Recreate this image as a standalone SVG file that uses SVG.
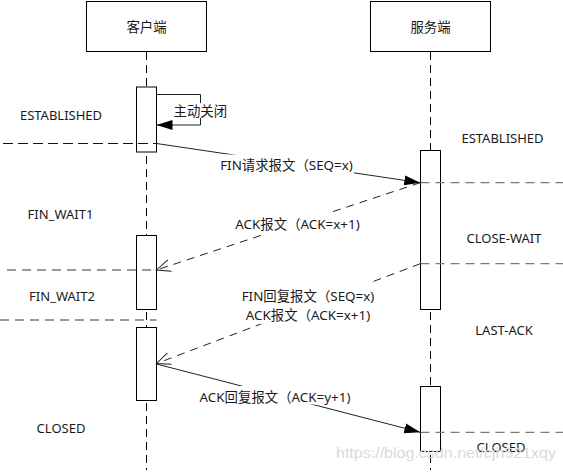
<svg xmlns="http://www.w3.org/2000/svg" width="563" height="472" viewBox="0 0 563 472">
<style>
text{font-family:"Noto Sans","Noto Sans CJK SC",sans-serif;font-size:13px;fill:#1a1a1a}
.mid{text-anchor:middle}
.lbl{font-size:13.4px}
.box{fill:#fff;stroke:#000;stroke-width:1}
.life{stroke:#000;stroke-width:1;stroke-dasharray:8 5;fill:none}
.msg{stroke:#222;stroke-width:1;fill:none}
.dmsg{stroke:#222;stroke-width:1;fill:none;stroke-dasharray:8 6}
.state{stroke:#7a7a7a;stroke-width:1.3;stroke-dasharray:9 6;fill:none}
.stateb{stroke:#111;stroke-width:1;stroke-dasharray:10 5;fill:none}
.bg{fill:#fff}
.wm{font-family:"Liberation Sans",Arial,sans-serif;font-size:15px;fill:#dadada}
</style>
<defs>
<marker id="filled" markerUnits="userSpaceOnUse" markerWidth="20" markerHeight="14" refX="16" refY="6" orient="auto">
<path d="M0,1 L16,6 L0,11 Z" fill="#000" stroke="none"/>
</marker>
<marker id="open" markerUnits="userSpaceOnUse" markerWidth="20" markerHeight="16" refX="14" refY="7" orient="auto">
<path d="M0,1 L14,7 L0,13" fill="none" stroke="#222" stroke-width="1" stroke-dasharray="none"/>
</marker>
</defs>

<g id="lifelines">
<line class="life" x1="146.5" y1="52" x2="146.5" y2="470"/>
<line class="life" x1="430.5" y1="52" x2="430.5" y2="470"/>
</g>

<g id="client">
<rect class="box" x="86.5" y="1.5" width="120" height="50"/>
<text class="mid lbl" x="146.5" y="32">客户端</text>
</g>
<g id="server">
<rect class="box" x="370.5" y="1.5" width="120" height="50"/>
<text class="mid lbl" x="430.5" y="32">服务端</text>
</g>

<g id="activations">
<rect id="c-act1" class="box" x="136.5" y="87" width="20" height="65"/>
<rect id="c-act2" class="box" x="136.5" y="235.5" width="20" height="74"/>
<rect id="c-act3" class="box" x="136.5" y="327.5" width="20" height="73"/>
<rect id="s-act1" class="box" x="420.5" y="150.5" width="20" height="159"/>
<rect id="s-act2" class="box" x="420.5" y="386.5" width="20" height="65"/>
</g>

<g id="state-lines">
<line class="stateb" x1="3" y1="143.5" x2="156.5" y2="143.5"/>
<line class="state" x1="420.5" y1="182.7" x2="563" y2="182.7"/>
<line class="state" x1="7" y1="270" x2="156.5" y2="270"/>
<line class="state" x1="420.5" y1="263.7" x2="563" y2="263.7"/>
<line class="state" x1="0" y1="320" x2="156.5" y2="320"/>
<line class="state" x1="420.5" y1="432.3" x2="563" y2="432.3"/>
</g>

<g id="connectors">
<path class="msg" d="M156.5,94.5 H200.5 V125 H156.5" marker-end="url(#filled)"/>
<line class="msg" x1="156.5" y1="143.5" x2="420.3" y2="182.7" marker-end="url(#filled)"/>
<line class="dmsg" x1="420.3" y1="182.7" x2="156.5" y2="270" marker-end="url(#open)"/>
<line class="dmsg" x1="420.3" y1="263.7" x2="156.5" y2="363.5" marker-end="url(#open)"/>
<line class="msg" x1="156.5" y1="364" x2="420.3" y2="432.3" marker-end="url(#filled)"/>
</g>

<g id="labels">
<rect class="bg" x="172" y="103" width="56" height="15"/>
<text class="lbl" x="173.5" y="116">主动关闭</text>
<rect class="bg" x="219" y="154.5" width="135" height="22"/>
<text class="mid lbl" x="286.5" y="170">FIN请求报文（SEQ=x)</text>
<rect class="bg" x="230" y="212" width="135" height="23"/>
<text class="mid lbl" x="297.5" y="229">ACK报文（ACK=x+1)</text>
<rect class="bg" x="239" y="282" width="138" height="42"/>
<text class="mid lbl" x="308" y="301">FIN回复报文（SEQ=x)</text>
<text class="mid lbl" x="308" y="319.5">ACK报文（ACK=x+1)</text>
<rect class="bg" x="194" y="386" width="162" height="18.5"/>
<text class="mid lbl" x="275" y="401.5">ACK回复报文（ACK=y+1)</text>
</g>

<g id="states">
<text class="mid" x="61" y="119.5">ESTABLISHED</text>
<text class="mid" x="502.5" y="142.5">ESTABLISHED</text>
<text class="mid" x="60.5" y="218.5">FIN_WAIT1</text>
<text class="mid" x="504" y="242.5">CLOSE-WAIT</text>
<text class="mid" x="62" y="300.5">FIN_WAIT2</text>
<text class="mid" x="504" y="334.5">LAST-ACK</text>
<text class="mid" x="61" y="432.5">CLOSED</text>
<text class="mid" x="501" y="451.5">CLOSED</text>
</g>

<text class="wm" x="336" y="458" textLength="220" lengthAdjust="spacingAndGlyphs">https://blog.csdn.net/cjh521xqy</text>
</svg>
